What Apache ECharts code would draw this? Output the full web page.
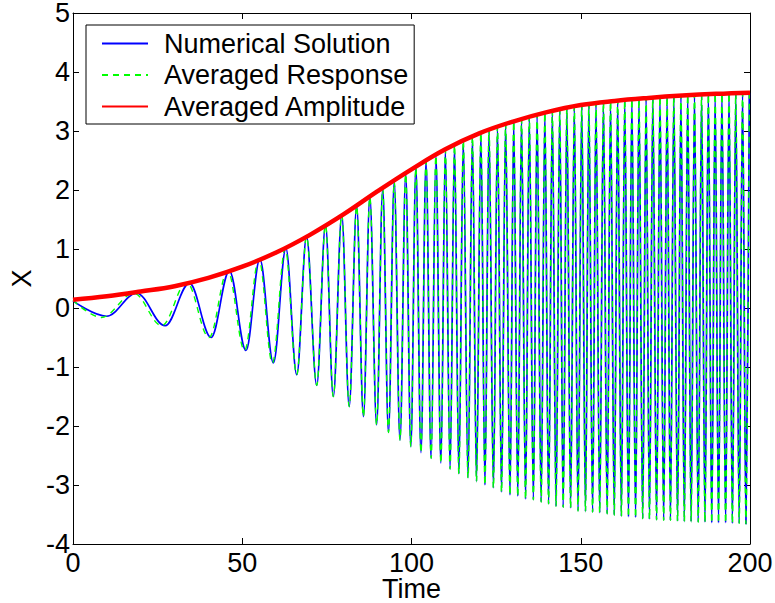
<!DOCTYPE html>
<html><head><meta charset="utf-8">
<script src="https://cdn.jsdelivr.net/npm/echarts@6/dist/echarts.min.js"></script>
<style>html,body{margin:0;padding:0;background:#fff}#c{width:775px;height:603px}</style>
</head><body><div id="c"></div>
<script>
const xTickStep = 50;
const yTickStep = 1;
const xRange = [0, 200];
const yRange = [-4, 5];

// Numerical solution: local maxima (time, value)
const peakTimes = [0,18.8,34.4,46.2,55.2,62.9,69.0,74.6,79.4,83.8,
  87.7,91.5,94.9,98.3,101.3,104.3,107.2,110.0,112.7,115.3,
  118.0,120.5,122.9,125.4,127.8,130.2,132.5,134.8,137.1,139.4,
  141.6,143.8,145.9,148.1,150.3,152.4,154.5,156.7,158.8,160.9,
  163.0,165.1,167.2,169.3,171.3,173.4,175.5,177.5,179.6,181.6,
  183.6,185.7,187.7,189.7,191.7,193.8,195.8,197.8,199.8];
const peakValues = [0.12,0.25,0.42,0.63,0.83,1.01,1.21,1.41,1.58,1.73,
  1.88,2.02,2.14,2.27,2.38,2.48,2.58,2.68,2.76,2.84,
  2.91,2.97,3.02,3.07,3.12,3.16,3.20,3.24,3.27,3.31,
  3.34,3.36,3.39,3.41,3.44,3.46,3.47,3.49,3.50,3.52,
  3.53,3.54,3.55,3.56,3.57,3.58,3.58,3.59,3.60,3.61,
  3.61,3.62,3.62,3.63,3.63,3.64,3.64,3.64,3.65];
// Numerical solution: local minima
const troughTimes = [9.9,27.2,40.8,51.1,59.2,66.1,72.0,76.9,81.6,85.8,
  89.7,93.2,96.6,99.8,102.8,105.8,108.7,111.4,114.0,116.7,
  119.2,121.7,124.2,126.6,129.1,131.4,133.7,136.0,138.3,140.5,
  142.7,144.8,147.0,149.2,151.4,153.5,155.6,157.8,159.9,162.0,
  164.1,166.2,168.3,170.3,172.4,174.5,176.5,178.6,180.6,182.6,
  184.7,186.7,188.7,190.7,192.8,194.8,196.8,198.8];
const troughValues = [-0.14,-0.30,-0.50,-0.72,-0.93,-1.13,-1.31,-1.50,-1.67,-1.84,
  -1.98,-2.11,-2.24,-2.35,-2.45,-2.55,-2.63,-2.73,-2.81,-2.88,
  -2.94,-3.00,-3.05,-3.12,-3.17,-3.19,-3.24,-3.25,-3.29,-3.32,
  -3.36,-3.38,-3.39,-3.44,-3.45,-3.46,-3.47,-3.49,-3.51,-3.53,
  -3.54,-3.55,-3.57,-3.58,-3.59,-3.60,-3.60,-3.61,-3.62,-3.62,
  -3.63,-3.63,-3.64,-3.64,-3.64,-3.65,-3.65,-3.66];

// Averaged response: early extrema (slight phase lead); later it follows the numerical solution
const greenEarlyTimes = [0,8.4,18.0,26.2,33.6,40.2,45.7,50.7,54.9,58.9,62.7];
const greenEarlyValues = [0.13,-0.16,0.25,-0.30,0.43,-0.50,0.63,-0.72,0.83,-0.93,1.01];

// Averaged amplitude (envelope)
const ampTimes = [0,10,20,30,40,50,60,70,80,90,100,110,120,130,140,150,160,170,180,190,200];
const ampValues = [0.14,0.20,0.28,0.37,0.51,0.70,0.94,1.24,1.59,1.98,2.35,2.69,2.96,3.16,3.32,3.44,3.51,3.56,3.60,3.63,3.65];

const seriesNames = ['Numerical Solution','Averaged Response','Averaged Amplitude'];

const numerical = [];
peakTimes.forEach((t,i)=>numerical.push([t, peakValues[i]]));
troughTimes.forEach((t,i)=>numerical.push([t, troughValues[i]]));
numerical.sort((a,b)=>a[0]-b[0]);
const lastEarly = greenEarlyTimes[greenEarlyTimes.length-1];
const averaged = greenEarlyTimes.map((t,i)=>[t, greenEarlyValues[i]])
  .concat(numerical.filter(p=>p[0] > lastEarly + 1));
const amplitude = ampTimes.map((t,i)=>[t, ampValues[i]]);

const FONT = 'Liberation Sans, Arial, Helvetica, sans-serif';
const axisCommon = {
  axisLine:{show:true,onZero:false,lineStyle:{color:'#000',width:1}},
  axisTick:{show:true,inside:true,length:6,lineStyle:{color:'#000',width:1}},
  splitLine:{show:false}
};
const chart = echarts.init(document.getElementById('c'), null, {renderer:'svg'});
chart.setOption({
  animation:false,
  backgroundColor:'#fff',
  grid:{left:73,right:25,top:13,bottom:59,containLabel:false,outerBoundsMode:'none'},
  legend:{
    orient:'vertical', left:86, top:25,
    padding:[5,6,4,15], itemGap:4.5, itemWidth:46, itemHeight:27,
    backgroundColor:'#fff', borderColor:'#000', borderWidth:1, borderRadius:0,
    itemStyle:{color:'rgba(0,0,0,0)', borderWidth:0, opacity:0},
    textStyle:{fontSize:27, fontFamily:FONT, color:'#000', padding:[0,0,0,11]},
    selectedMode:false,
    data:seriesNames
  },
  xAxis:[
    Object.assign({type:'value',position:'bottom',min:xRange[0],max:xRange[1],interval:xTickStep,
      axisLabel:{fontSize:27,lineHeight:20,fontFamily:FONT,color:'#000',margin:9},
      name:'Time',nameLocation:'middle',nameGap:36,nameMoveOverlap:false,
      nameTextStyle:{fontSize:27,lineHeight:18,fontFamily:FONT,color:'#000'}}, axisCommon),
    Object.assign({type:'value',position:'top',min:xRange[0],max:xRange[1],interval:xTickStep,
      axisLabel:{show:false}}, axisCommon)
  ],
  yAxis:[
    Object.assign({type:'value',position:'left',min:yRange[0],max:yRange[1],interval:yTickStep,
      axisLabel:{fontSize:27,lineHeight:18,fontFamily:FONT,color:'#000',margin:3},
      name:'X',nameLocation:'middle',nameGap:38,nameRotate:90,nameMoveOverlap:false,
      nameTextStyle:{fontSize:27,fontFamily:FONT,color:'#000'}}, axisCommon),
    Object.assign({type:'value',position:'right',min:yRange[0],max:yRange[1],interval:yTickStep,
      axisLabel:{show:false}}, axisCommon)
  ],
  series:[
    {name:seriesNames[0],type:'line',data:numerical,symbol:'none',showSymbol:false,
      smooth:0.36,smoothMonotone:'x',
      lineStyle:{color:'#0000ff',width:1.7},itemStyle:{color:'#0000ff'},z:2},
    {name:seriesNames[1],type:'line',data:averaged,symbol:'none',showSymbol:false,
      smooth:0.36,smoothMonotone:'x',
      lineStyle:{color:'#00ff00',width:1.4,type:[6,5]},itemStyle:{color:'#00ff00'},z:3},
    {name:seriesNames[2],type:'line',data:amplitude,symbol:'none',showSymbol:false,
      smooth:0.4,
      lineStyle:{color:'#ff0000',width:4.5},itemStyle:{color:'#ff0000'},z:4}
  ]
});
</script></body></html>
